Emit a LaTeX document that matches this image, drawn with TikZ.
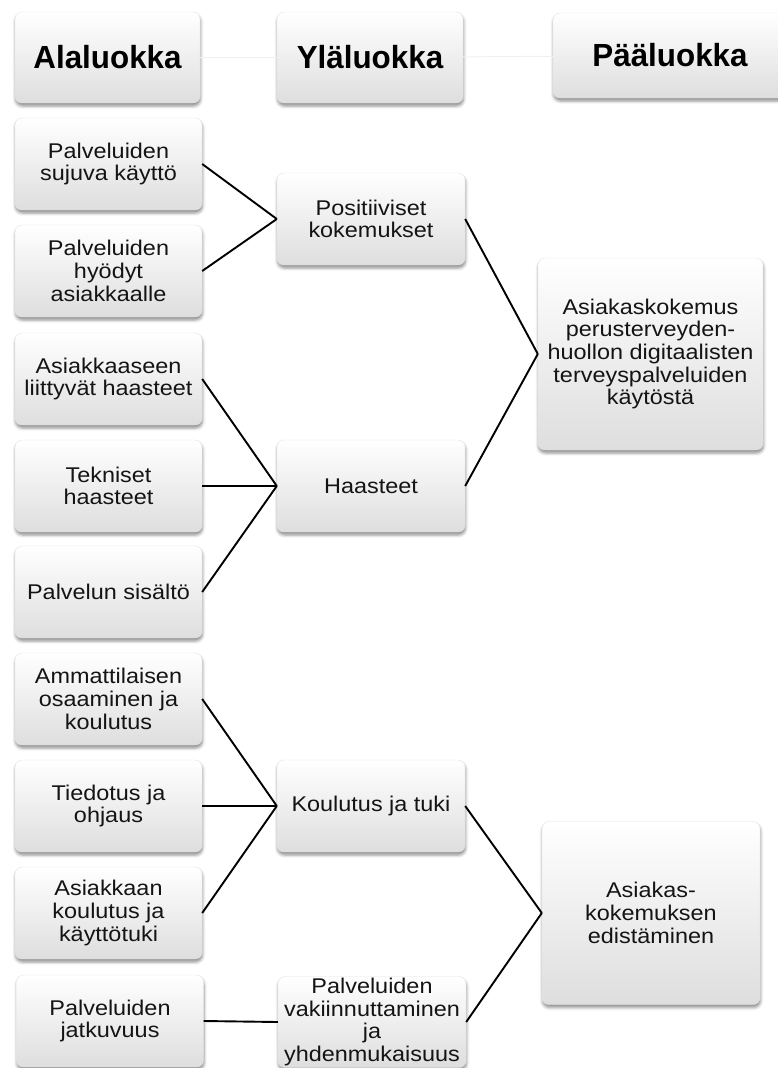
\documentclass[tikz,border=0pt]{standalone}
\usepackage{fontspec}
\setmainfont{Liberation Sans}[FakeStretch=1.1]
\newfontfamily\headfamily{Liberation Sans}[FakeStretch=0.98]
\usetikzlibrary{shadows.blur}
\newcommand{\bodyfont}{\fontsize{21.3}{22.7}\selectfont}
\newcommand{\headfont}{\headfamily\fontsize{32}{34}\selectfont\bfseries}
\begin{document}
\begin{tikzpicture}[x=1pt,y=-1pt,
  card/.style={rounded corners=7pt, draw=gray!22, line width=0.4pt,
    top color=white, bottom color=black!13,
    blur shadow={shadow xshift=0.5pt, shadow yshift=-3pt, shadow blur radius=3pt, shadow opacity=45},
    align=center, inner sep=0pt, text=black!92, font=\bodyfont},
  leftcard/.style={card, minimum width=187pt, minimum height=92pt},
  midcard/.style={card, minimum width=188pt, minimum height=92pt},
  headcard/.style={card, text=black, font=\headfont},
  link/.style={draw=black, line width=1.9pt},
  faint/.style={draw=gray!12, line width=1pt}
]
\useasboundingbox (0,0) rectangle (777,1068);

% headers
\node[headcard, minimum width=185pt, minimum height=91pt] (h1) at (107.5,57.5) {Alaluokka};
\node[headcard, minimum width=186pt, minimum height=91pt] (h2) at (370,57.5) {Yläluokka};
\node[headcard, minimum width=234pt, minimum height=85pt] (h3) at (670,55.5) {Pääluokka};

% left column
\node[leftcard] (a1) at (108.5,164) {Palveluiden\\sujuva käyttö};
\node[leftcard] (a2) at (108.5,271) {Palveluiden\\hyödyt\\asiakkaalle};
\node[leftcard] (a3) at (108.5,379) {Asiakkaaseen\\liittyvät haasteet};
\node[leftcard] (a4) at (108.5,486) {Tekniset\\haasteet};
\node[leftcard] (a5) at (108.5,592) {Palvelun sisältö};
\node[leftcard] (a6) at (108.5,699) {Ammattilaisen\\osaaminen ja\\koulutus};
\node[leftcard] (a7) at (108.5,806) {Tiedotus ja\\ohjaus};
\node[leftcard] (a8) at (108.5,913) {Asiakkaan\\koulutus ja\\käyttötuki};
\node[leftcard] (a9) at (110,1021) {Palveluiden\\jatkuvuus};

% middle column
\node[midcard] (b1) at (371,219) {Positiiviset\\kokemukset};
\node[midcard] (b2) at (371,486) {Haasteet};
\node[midcard] (b3) at (371,806) {Koulutus ja tuki};
\node[midcard, minimum height=91pt] (b4) at (372,1022) {Palveluiden\\vakiinnuttaminen\\ja\\yhdenmukaisuus};

% right column
\node[card, minimum width=225pt, minimum height=192pt] (c1) at (650.5,354) {Asiakaskokemus\\perusterveyden-\\huollon digitaalisten\\terveyspalveluiden\\käytöstä};
\node[card, minimum width=218pt, minimum height=183pt] (c2) at (651,913) {Asiakas-\\kokemuksen\\edistäminen};

% faint header connectors
\draw[faint] (h1) -- (h2);
\draw[faint] (h2) -- (h3);

% connectors
\foreach \s in {a1,a2} \draw[link] (\s.east) -- (b1.west);
\foreach \s in {a3,a4,a5} \draw[link] (\s.east) -- (b2.west);
\foreach \s in {a6,a7,a8} \draw[link] (\s.east) -- (b3.west);
\draw[link] (a9.east) -- (b4.west);
\foreach \s in {b1,b2} \draw[link] (\s.east) -- (c1.west);
\foreach \s in {b3,b4} \draw[link] (\s.east) -- (c2.west);
\end{tikzpicture}
\end{document}
